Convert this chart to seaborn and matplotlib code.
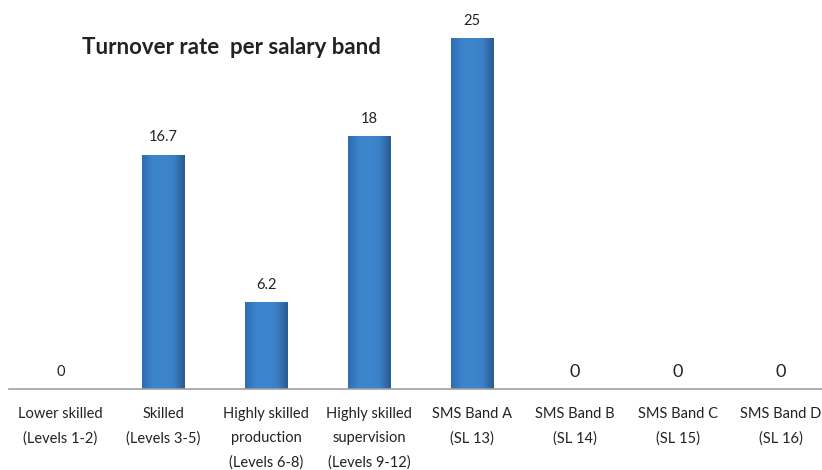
import matplotlib
matplotlib.use("Agg")
import matplotlib.pyplot as plt
from matplotlib.colors import LinearSegmentedColormap
import seaborn as sns
import pandas as pd
import numpy as np

categories = [
    "Lower skilled\n(Levels 1-2)",
    "Skilled\n(Levels 3-5)",
    "Highly skilled\nproduction\n(Levels 6-8)",
    "Highly skilled\nsupervision\n(Levels 9-12)",
    "SMS Band A\n(SL 13)",
    "SMS Band B\n(SL 14)",
    "SMS Band C\n(SL 15)",
    "SMS Band D\n(SL 16)",
]
rates = [0, 16.7, 6.2, 18, 25, 0, 0, 0]
value_labels = ["0", "16.7", "6.2", "18", "25", "0", "0", "0"]

df = pd.DataFrame({"band": categories, "rate": rates})

sns.set_theme(style="white")
plt.rcParams["font.family"] = ["Lato", "DejaVu Sans"]

fig = plt.figure(figsize=(8.22, 4.70), dpi=100)
ax = fig.add_axes([9 / 822, 1 - 389 / 470, 813 / 822, 389 / 470])

sns.barplot(data=df, x="band", y="rate", color="#3a82c9", width=0.41,
            edgecolor="none", linewidth=0, saturation=1, ax=ax)

# horizontal shading on each bar, like the original Excel style
shade = LinearSegmentedColormap.from_list(
    "bar", ["#2f6cb4", "#3b84cc", "#3d86ce", "#3a80c6", "#2a5a90"])
grad = np.linspace(0, 1, 64).reshape(1, -1)
for p in ax.patches:
    x0, y0 = p.get_x(), p.get_y()
    w, h = p.get_width(), p.get_height()
    if h <= 0:
        continue
    im = ax.imshow(grad, cmap=shade, aspect="auto", extent=[x0, x0 + w, y0, y0 + h],
                   zorder=p.get_zorder() + 0.1)
    im.set_clip_path(p)

ax.set_xlim(-0.5, -0.5 + 813 / 102.86)
ax.set_ylim(0, 389 / 14.04)

for i, (v, lab) in enumerate(zip(rates, value_labels)):
    big = i >= 5
    ax.annotate(lab, (i, v), xytext=(0, 12.5), textcoords="offset points",
                ha="center", va="center",
                fontsize=13 if big else 10.5, color="#222222")

ax.set_xlabel("")
ax.set_ylabel("")
ax.set_yticks([])
ax.tick_params(axis="x", length=0, pad=13, labelsize=10.5, colors="#222222")
for t in ax.get_xticklabels():
    t.set_linespacing(1.9)
for s in ["left", "right", "top"]:
    ax.spines[s].set_visible(False)
ax.spines["bottom"].set_color("#a0a0a0")
ax.spines["bottom"].set_linewidth(1.2)

fig.text(82 / 822, 1 - 47 / 470, "Turnover rate  per salary band", fontsize=16,
         fontweight="bold", color="#222222", va="center", ha="left")

fig.savefig("out.png", dpi=100)
